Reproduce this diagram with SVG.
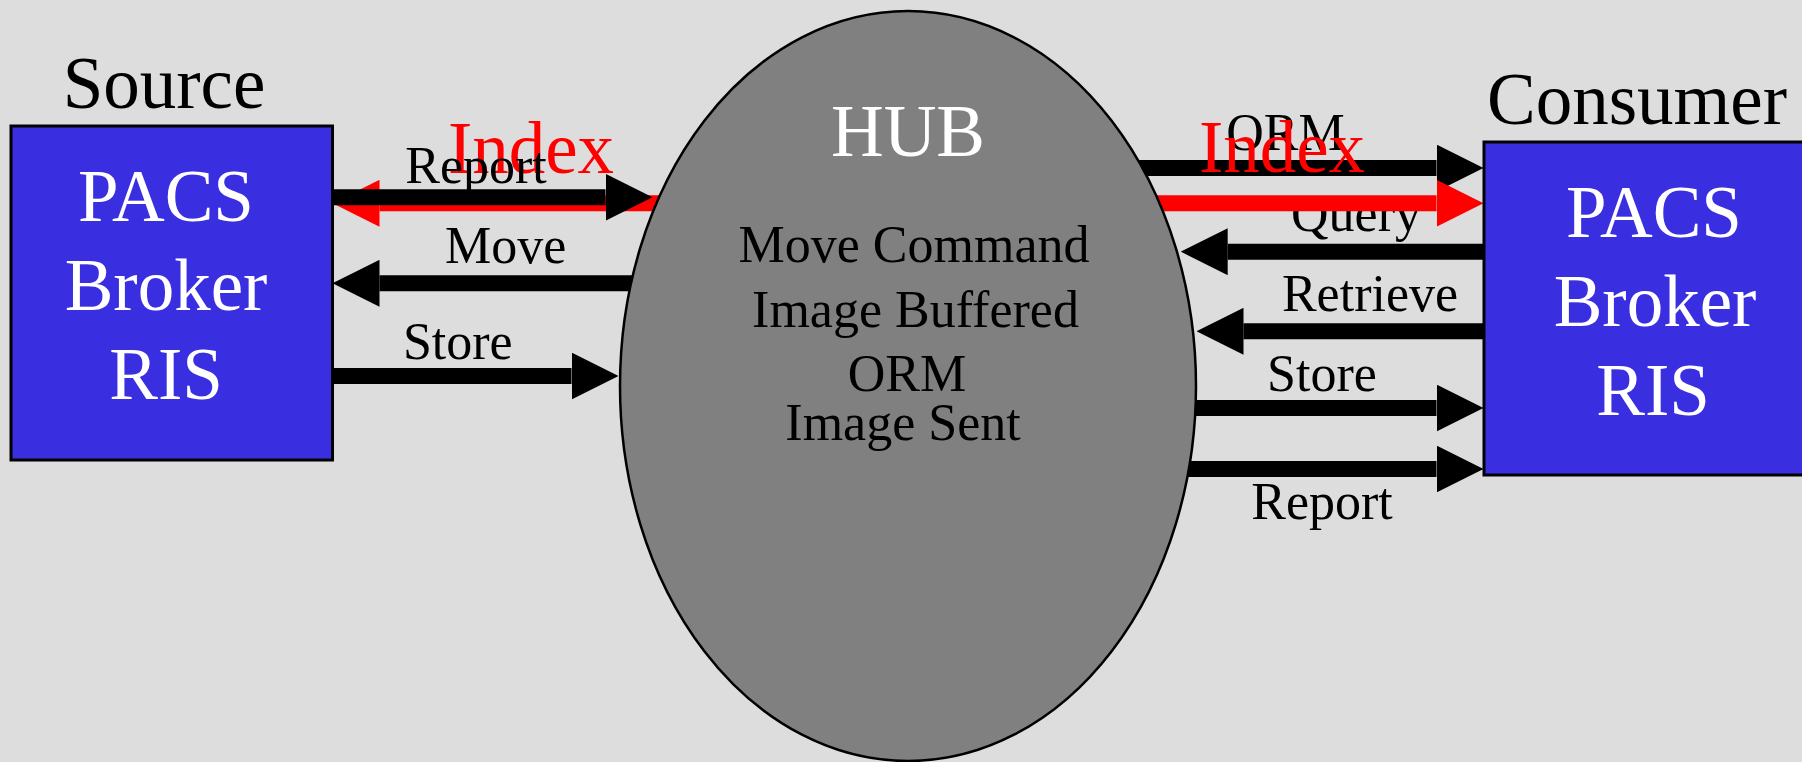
<svg xmlns="http://www.w3.org/2000/svg" width="1802" height="762" viewBox="0 0 1802 762">
<defs>
<style>
.bg{fill:#dddddd}
.box{fill:#392ee0;stroke:#000;stroke-width:3}
.hub{fill:#808080;stroke:#000;stroke-width:2.5}
.big{font-family:"Liberation Serif","Times New Roman",serif;font-size:73px;text-anchor:middle}
.small{font-family:"Liberation Serif","Times New Roman",serif;font-size:52px;text-anchor:middle}
.w{fill:#ffffff}
.k{fill:#000000}
.r{fill:#ff0000}
.shaft{stroke-width:16;fill:none}
.blk{stroke:#000}
.red{stroke:#ff0000}
</style>
<marker id="hk" viewBox="0 0 47 47" refX="0" refY="23.5" markerWidth="47" markerHeight="47" markerUnits="userSpaceOnUse" orient="auto"><path d="M0,0 L47,23.5 L0,47 Z" fill="#000"/></marker>
<marker id="hr" viewBox="0 0 47 47" refX="0" refY="23.5" markerWidth="47" markerHeight="47" markerUnits="userSpaceOnUse" orient="auto"><path d="M0,0 L47,23.5 L0,47 Z" fill="#ff0000"/></marker>
</defs>
<rect class="bg" x="0" y="0" width="1802" height="762"/>

<g id="connectors">
  <!-- left side -->
  <line class="shaft red" x1="680" y1="203.3" x2="379.5" y2="203.3" marker-end="url(#hr)"/>
  <line class="shaft blk" x1="332" y1="197.3" x2="605.5" y2="197.3" marker-end="url(#hk)"/>
  <line class="shaft blk" x1="660" y1="283.3" x2="379.5" y2="283.3" marker-end="url(#hk)"/>
  <line class="shaft blk" x1="332" y1="376" x2="571.5" y2="376" marker-end="url(#hk)"/>
  <!-- right side -->
  <line class="shaft blk" x1="1120" y1="168" x2="1436.5" y2="168" marker-end="url(#hk)"/>
  <line class="shaft blk" x1="1484" y1="251.7" x2="1227.7" y2="251.7" marker-end="url(#hk)"/>
  <line class="shaft blk" x1="1484" y1="331.3" x2="1243.5" y2="331.3" marker-end="url(#hk)"/>
  <line class="shaft blk" x1="1170" y1="408" x2="1436.5" y2="408" marker-end="url(#hk)"/>
  <line class="shaft blk" x1="1170" y1="469" x2="1436.5" y2="469" marker-end="url(#hk)"/>
</g>

<g id="labels-right-under">
  <text class="small k" x="1356" y="231">Query</text>
</g>
<g id="connector-index-right">
  <line class="shaft red" x1="1140" y1="203.3" x2="1436.5" y2="203.3" marker-end="url(#hr)"/>
</g>

<g id="hub">
  <ellipse class="hub" cx="908" cy="386" rx="288" ry="375"/>
  <text class="big w" x="908" y="155.5">HUB</text>
  <text class="small k" x="914" y="262.4">Move Command</text>
  <text class="small k" x="915.5" y="326.5">Image Buffered</text>
  <text class="small k" x="907" y="391">ORM</text>
  <text class="small k" x="903" y="439.7">Image Sent</text>
</g>

<g id="source">
  <text class="big k" x="164" y="108.3">Source</text>
  <rect class="box" x="11" y="126" width="321.5" height="334"/>
  <text class="big w" x="166" y="220.7">PACS</text>
  <text class="big w" x="166" y="310">Broker</text>
  <text class="big w" x="166" y="399">RIS</text>
</g>

<g id="consumer">
  <text class="big k" x="1637" y="124.3">Consumer</text>
  <rect class="box" x="1484" y="142" width="330" height="333"/>
  <text class="big w" x="1654" y="236.7">PACS</text>
  <text class="big w" x="1655" y="325.7">Broker</text>
  <text class="big w" x="1653" y="415">RIS</text>
</g>

<g id="labels">
  <text class="big r" x="531" y="172.7">Index</text>
  <text class="small k" x="476" y="183">Report</text>
  <text class="small k" x="505.6" y="263.3">Move</text>
  <text class="small k" x="457.8" y="359.3">Store</text>
  <text class="small k" x="1285.4" y="150">ORM</text>
  <text class="big r" x="1282" y="171.7">Index</text>
  <text class="small k" x="1370" y="310.7">Retrieve</text>
  <text class="small k" x="1322" y="391">Store</text>
  <text class="small k" x="1322" y="519">Report</text>
</g>
</svg>
